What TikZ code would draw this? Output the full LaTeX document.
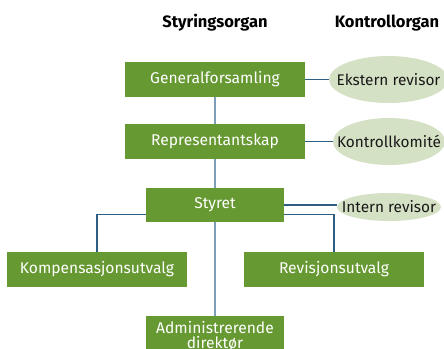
\documentclass[tikz,border=0pt]{standalone}
\usepackage{fontspec}
\setmainfont{Fira Sans}
\usepackage{tikz}
\usetikzlibrary{positioning,shapes.geometric}

\definecolor{boxgreen}{RGB}{103,153,50}
\definecolor{ovalfill}{RGB}{213,225,196}
\definecolor{linkdark}{RGB}{46,94,132}
\definecolor{linklight}{RGB}{126,157,184}

% text in an oval must not widen the oval
\newcommand{\ovaltxt}[1]{\makebox[0pt]{#1}}

\tikzset{
  box/.style={fill=boxgreen, text=white, font=\fontsize{15.6}{16}\selectfont,
    minimum height=35pt, inner sep=0pt},
  oval/.style={ellipse, fill=ovalfill, text=black!90, inner sep=0pt,
    font=\fontsize{15.4}{16}\selectfont},
  hdr/.style={font=\bfseries\fontsize{16.5}{17}\selectfont},
  trunk/.style={linklight, line width=1.3pt},
  link/.style={linkdark, line width=1.1pt},
}

\begin{document}
\begin{tikzpicture}[x=1pt,y=-1pt]
\useasboundingbox (0,0) rectangle (444,348);
% column headers
\node[hdr] (hstyr) at (215,23) {Styringsorgan};
\node[hdr] (hktrl) at (387,23) {Kontrollorgan};
% governing bodies
\node[box, minimum width=180pt] (gf) at (215,79.5) {Generalforsamling};
\node[box, minimum width=180pt] (rep) at (215,141.5) {Representantskap};
\node[box, minimum width=138pt, minimum height=34pt] (sty) at (215,205) {Styret};
\node[box, minimum width=180pt] (komp) at (97,269.5) {Kompensasjonsutvalg};
\node[box, minimum width=180pt] (rev) at (334,269.5) {Revisjonsutvalg};
\node[box, anchor=north, minimum width=138pt, minimum height=40pt,
  align=center, font=\fontsize{15.6}{15}\selectfont, inner sep=1pt] (adm) at (215,316)
  {Administrerende\\direktør};
% control bodies
\node[oval, minimum width=119pt, minimum height=47pt] (ext) at (388.5,79.5) {\ovaltxt{Ekstern revisor}};
\node[oval, minimum width=112pt, minimum height=47pt] (kk) at (389,141.5) {\ovaltxt{Kontrollkomité}};
\node[oval, minimum width=104pt, minimum height=28pt] (ir) at (389,207) {\ovaltxt{Intern revisor}};
% connectors
\draw[trunk] (gf.south) -- (rep.north);
\draw[trunk] (rep.south) -- (sty.north);
\draw[trunk] (sty.south) -- (adm.north);
\draw[link] (gf.east) -- (ext.west);
\draw[link] (rep.east) -- (kk.west);
\draw[link] (sty.east) -- (sty.east -| ir.west);
\draw[link] ([yshift=-9.5pt]sty.west) -| (komp.north);
\draw[link] ([yshift=-9.5pt]sty.east) -| (rev.north);
\end{tikzpicture}
\end{document}
